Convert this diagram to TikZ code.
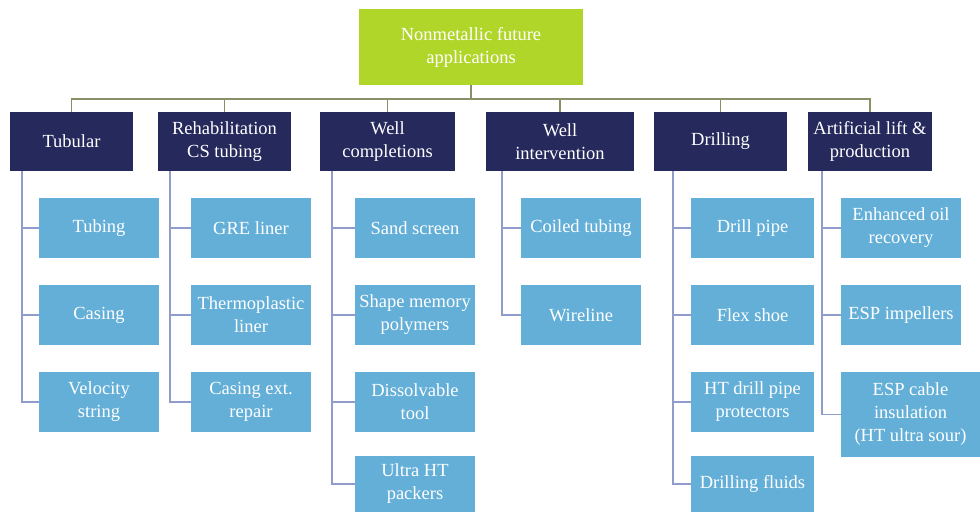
\documentclass[tikz,border=0pt]{standalone}
\usepackage{fontspec}
\setmainfont{Liberation Serif}
\usetikzlibrary{positioning}
\definecolor{rootgreen}{RGB}{177,214,42}
\definecolor{catnavy}{RGB}{37,41,92}
\definecolor{itemblue}{RGB}{99,175,216}
\definecolor{busgray}{RGB}{138,143,106}
\definecolor{spineblue}{RGB}{143,156,204}

\begin{document}
\begin{tikzpicture}[x=1pt,y=-1pt,
  boxfont/.style={font=\fontsize{18.5}{23}\selectfont},
  rootbox/.style={boxfont,fill=rootgreen,text=white,align=center,inner sep=0pt,minimum width=224pt,minimum height=76pt},
  catbox/.style={boxfont,fill=catnavy,text=white,align=center,inner sep=0pt,minimum height=59pt},
  itembox/.style={boxfont,fill=itemblue,text=white,align=center,inner sep=0pt,minimum width=120pt,minimum height=60pt},
  bus/.style={draw=busgray,line width=1.5pt},
  spine/.style={draw=spineblue,line width=1.5pt}]
\useasboundingbox (0,0) rectangle (980,512);

% top level
\node[rootbox] (root) at (471,47) {Nonmetallic future\\applications};

% categories
\node[catbox,minimum width=123pt] (tub) at (71.5,141.5) {Tubular};
\node[catbox,minimum width=133pt] (reh) at (224.5,141.5) {Rehabilitation\\CS tubing};
\node[catbox,minimum width=135pt] (wcp) at (387.5,141.5) {Well\\completions};
\node[catbox,minimum width=148pt] (wint) at (560,141.5) {Well\\intervention};
\node[catbox,minimum width=133pt] (drl) at (720.5,141.5) {Drilling};
\node[catbox,minimum width=124pt] (alp) at (870,141.5) {Artificial lift \&\\production};

% bus from the top box to each category
\foreach \c in {tub,reh,wcp,wint,drl,alp}
  \draw[bus] (root.south) -- ++(0,14) -| (\c.north);

% items
\node[itembox] (tub1) at (99,228) {Tubing};
\node[itembox] (tub2) at (99,315) {Casing};
\node[itembox] (tub3) at (99,402) {Velocity\\string};

\node[itembox] (reh1) at (251,228) {GRE liner};
\node[itembox] (reh2) at (251,315) {Thermoplastic\\liner};
\node[itembox] (reh3) at (251,402) {Casing ext.\\repair};

\node[itembox] (wcp1) at (415,228) {Sand screen};
\node[itembox] (wcp2) at (415,315) {Shape memory\\polymers};
\node[itembox] (wcp3) at (415,402) {Dissolvable\\tool};
\node[itembox,minimum height=56pt] (wcp4) at (415,484) {Ultra HT\\packers};

\node[itembox] (wint1) at (581,228) {Coiled tubing};
\node[itembox] (wint2) at (581,315) {Wireline};

\node[itembox,minimum width=123pt] (drl1) at (752.5,228) {Drill pipe};
\node[itembox,minimum width=123pt] (drl2) at (752.5,315) {Flex shoe};
\node[itembox,minimum width=123pt] (drl3) at (752.5,402) {HT drill pipe\\protectors};
\node[itembox,minimum width=123pt,minimum height=56pt] (drl4) at (752.5,484) {Drilling fluids};

\node[itembox] (alp1) at (901,228) {Enhanced oil\\recovery};
\node[itembox] (alp2) at (901,315) {ESP impellers};
\node[itembox,minimum width=139pt,minimum height=85pt] (alp3) at (910.5,414.5) {ESP cable\\insulation\\(HT ultra sour)};

% spines down the left of each column
\coordinate (tubS) at (22,171);
\coordinate (rehS) at (170,171);
\coordinate (wcpS) at (332,171);
\coordinate (wintS) at (502,171);
\coordinate (drlS) at (673,171);
\coordinate (alpS) at (822,171);

\foreach \c/\n in {tub/3,reh/3,wcp/4,wint/2,drl/4,alp/3}
  \foreach \i in {1,...,\n}
    \draw[spine] (\c S) |- (\c\i.west);
\end{tikzpicture}
\end{document}
